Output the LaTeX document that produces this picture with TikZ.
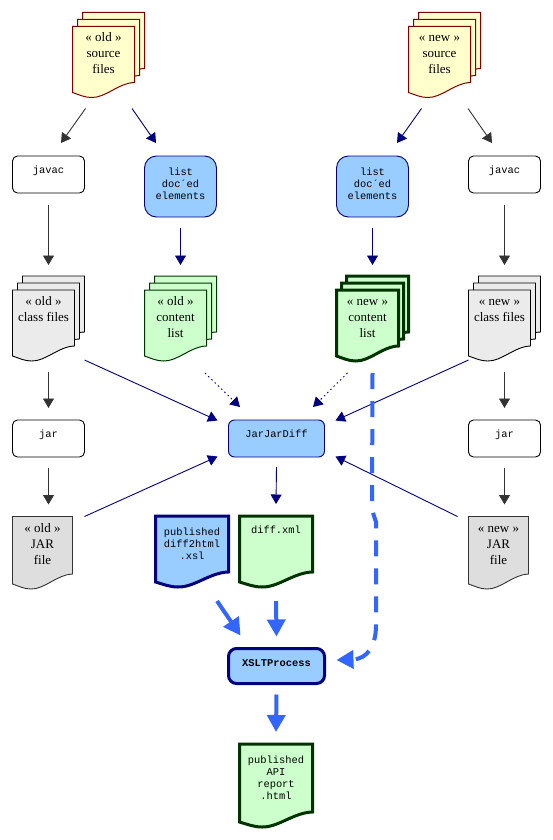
\documentclass[tikz,border=0pt]{standalone}
\usepackage{fontspec}
\setmainfont{Liberation Serif}
\setmonofont{Liberation Mono}
\usepackage{xcolor}
\usetikzlibrary{arrows.meta}
\definecolor{apiNavy}{HTML}{000080}
\definecolor{apiSky}{HTML}{99CCFF}
\definecolor{apiForest}{HTML}{003300}
\definecolor{apiMint}{HTML}{CCFFCC}
\definecolor{apiMaroon}{HTML}{800000}
\definecolor{apiCream}{HTML}{FFFFCC}
\definecolor{apiGray}{HTML}{333333}
\definecolor{apiRoyal}{HTML}{3366FF}
\tikzset{
  plain flow/.style={-{Triangle[length=9.5pt,width=11pt]}, line width=0.9pt, draw=apiGray},
  navy flow/.style={-{Triangle[length=9.5pt,width=11pt]}, line width=0.9pt, draw=apiNavy},
  dotted flow/.style={navy flow, dash pattern=on 1.5pt off 3pt},
  big flow/.style={-{Triangle[length=17pt,width=18pt]}, line width=4pt, draw=apiRoyal},
  source sheet/.style={draw=apiMaroon, fill=apiCream, line width=1pt},
  class sheet/.style={draw=black, fill=black!8, line width=0.9pt},
  jar sheet/.style={draw=apiGray, fill=black!13, line width=0.9pt},
  content sheet/.style={draw=apiForest, fill=apiMint, line width=1pt},
  new content sheet/.style={draw=apiForest, fill=apiMint, line width=3pt},
  report sheet/.style={draw=apiForest, fill=apiMint, line width=3pt},
  style sheet/.style={draw=apiNavy, fill=apiSky, line width=3pt},
  page label/.style={anchor=north west, inner sep=0pt, outer sep=0pt,
    font=\fontsize{13}{16}\selectfont},
  code label/.style={page label, font=\ttfamily\fontsize{10.4}{12}\selectfont},
  tool box/.style={anchor=north west, draw=black, fill=white, rounded corners=5pt,
    line width=0.9pt, inner sep=0pt, outer sep=0pt,
    font=\ttfamily\fontsize{10.4}{12}\selectfont},
  query box/.style={tool box, draw=apiNavy, fill=apiSky, rounded corners=12pt},
  diff box/.style={tool box, draw=apiNavy, fill=apiSky, rounded corners=6pt},
  xslt box/.style={tool box, draw=apiNavy, fill=apiSky, rounded corners=8pt,
    line width=3pt, font=\ttfamily\bfseries\fontsize{10.4}{12}\selectfont}
}
% text block of fixed size: height, width, space above, text
\newcommand{\pagetext}[4]{\parbox[c][#1pt][t]{#2pt}{\centering\vspace*{#3pt}\strut#4}}
% one sheet with a wavy foot: [extra height], style, left, top, width
\newcommand{\docsheet}[5][0]{%
  \draw[#2, shift={(#3,#4)}, xscale=#5/62] (0,0) -- (62,0) -- (62,56+#1)
    .. controls (46,56.5+#1) and (33,71.5+#1) .. (19,71+#1)
    .. controls (12,71+#1) and (6,68+#1) .. (0,66+#1) -- cycle;}
% three sheets, back to front
\newcommand{\docstack}[3]{%
  \foreach \dx/\dy in {10/-14,5/-7,0/0} {\docsheet{#1}{#2+\dx}{#3+\dy}{62}}}
\begin{document}
\begin{tikzpicture}[x=1pt,y=-1pt]
  \useasboundingbox (0,0) rectangle (552,840);
  % old and new source
  \docstack{source sheet}{72.5}{26.5}
  \node[page label] (oldsource) at (72.5,26.5) {\pagetext{71}{62}{4.3}{« old »\\source\\files}};
  \docstack{source sheet}{408.5}{26.5}
  \node[page label] (newsource) at (408.5,26.5) {\pagetext{71}{62}{4.3}{« new »\\source\\files}};
  % tools of the top row
  \node[tool box] (oldjavac) at (12.5,156) {\pagetext{37}{72}{8.6}{javac}};
  \node[query box] (oldlist) at (144.5,156) {\pagetext{61}{72}{10.6}{list\\doc´ed\\elements}};
  \node[query box] (newlist) at (336.5,156) {\pagetext{61}{72}{10.6}{list\\doc´ed\\elements}};
  \node[tool box] (newjavac) at (468.5,156) {\pagetext{37}{72}{8.6}{javac}};
  % class files and content lists
  \docstack{class sheet}{12.5}{290}
  \node[page label] (oldclass) at (12.5,290) {\pagetext{71}{62}{3.8}{« old »\\class files}};
  \docstack{content sheet}{144.5}{290}
  \node[page label] (oldcontent) at (144.5,290) {\pagetext{71}{62}{3.8}{« old »\\content\\list}};
  \docstack{new content sheet}{336.5}{290}
  \node[page label] (newcontent) at (336.5,290) {\pagetext{71}{62}{3.8}{« new »\\content\\list}};
  \docstack{class sheet}{468.5}{290}
  \node[page label] (newclass) at (468.5,290) {\pagetext{71}{62}{3.8}{« new »\\class files}};
  % jar row
  \node[tool box] (oldjar) at (12.5,420) {\pagetext{37}{72}{8.6}{jar}};
  \node[diff box] (jarjar) at (228.5,420) {\pagetext{37}{96}{8.6}{JarJarDiff}};
  \node[tool box] (newjar) at (468.5,420) {\pagetext{37}{72}{8.6}{jar}};
  \docsheet[1.5]{jar sheet}{12.5}{516.5}{60}
  \node[page label] (oldfile) at (12.5,516.5) {\pagetext{72.5}{60}{4.3}{« old »\\JAR\\file}};
  \docsheet[1.5]{jar sheet}{468.5}{516.5}{60}
  \node[page label] (newfile) at (468.5,516.5) {\pagetext{72.5}{60}{4.3}{« new »\\JAR\\file}};
  % stylesheet, diff and report
  \docsheet{style sheet}{155.5}{516}{73}
  \node[code label] (stylesheet) at (155.5,516) {\pagetext{71}{73}{10.6}{published\\diff2html\\.xsl}};
  \docsheet{report sheet}{239.5}{516}{73}
  \node[code label] (diffxml) at (239.5,516) {\pagetext{71}{73}{8.6}{diff.xml}};
  \node[xslt box] (xslt) at (228.5,648.5) {\pagetext{35}{96}{10}{XSLTProcess}};
  \docsheet[12]{report sheet}{239.5}{744}{73}
  \node[code label] (report) at (239.5,744) {\pagetext{83}{73}{10.6}{published\\API\\report\\.html}};
  % plain connectors
  \draw[plain flow] ([shift={(-18,11)}]oldsource.south) -- ([shift={(12.5,-13)}]oldjavac.north);
  \draw[navy flow] ([shift={(28.5,11)}]oldsource.south) -- ([shift={(-24.5,-13)}]oldlist.north);
  \draw[navy flow] ([shift={(-18,11)}]newsource.south) -- ([shift={(24.5,-13)}]newlist.north);
  \draw[plain flow] ([shift={(28.5,11)}]newsource.south) -- ([shift={(-12.5,-13)}]newjavac.north);
  \draw[plain flow] ([shift={(0,12)}]oldjavac.south) -- ([shift={(5,-25)}]oldclass.north);
  \draw[navy flow] ([shift={(0,11)}]oldlist.south) -- ([shift={(5,-25)}]oldcontent.north);
  \draw[navy flow] ([shift={(0,11)}]newlist.south) -- ([shift={(5,-25)}]newcontent.north);
  \draw[plain flow] ([shift={(0,12)}]newjavac.south) -- ([shift={(5,-25)}]newclass.north);
  \draw[plain flow] ([shift={(5,11)}]oldclass.south) -- ([shift={(0,-12)}]oldjar.north);
  \draw[plain flow] ([shift={(5,11)}]newclass.south) -- ([shift={(0,-12)}]newjar.north);
  \draw[plain flow] ([shift={(0,11)}]oldjar.south) -- ([shift={(6,-12)}]oldfile.north);
  \draw[plain flow] ([shift={(0,11)}]newjar.south) -- ([shift={(6,-12)}]newfile.north);
  % into and out of the diff tool
  \draw[navy flow] ([shift={(41,-1)}]oldclass.south) -- ([shift={(-11,0.5)}]jarjar.north west);
  \draw[navy flow] ([shift={(-31,-1)}]newclass.south) -- ([shift={(11,0.5)}]jarjar.north east);
  \draw[navy flow] ([shift={(12,0)}]oldfile.north east) -- ([shift={(-11,-0.5)}]jarjar.south west);
  \draw[navy flow] ([shift={(-11,0)}]newfile.north west) -- ([shift={(11,-0.5)}]jarjar.south east);
  \draw[dotted flow] ([shift={(29.5,12)}]oldcontent.south) -- ([shift={(-36.5,-13)}]jarjar.north);
  \draw[dotted flow] ([shift={(-20,12)}]newcontent.south) -- ([shift={(36.5,-13)}]jarjar.north);
  \draw[navy flow] ([shift={(0,10)}]jarjar.south) -- ([shift={(0,-12)}]diffxml.north);
  % into and out of the transform
  \draw[big flow] ([shift={(25,14)}]stylesheet.south) -- ([shift={(-36,-13)}]xslt.north);
  \draw[big flow] ([shift={(0,14)}]diffxml.south) -- ([shift={(0,-12)}]xslt.north);
  \draw[big flow] ([shift={(0,11)}]xslt.south) -- ([shift={(0,-12)}]report.north);
  \draw[big flow, dash pattern=on 16pt off 12pt] ([shift={(5,12)}]newcontent.south) -- (372,510) -- (376,522) -- (376,625)
    .. controls (376,645) and (368,659) .. ([shift={(12,-6)}]xslt.east);
\end{tikzpicture}
\end{document}
